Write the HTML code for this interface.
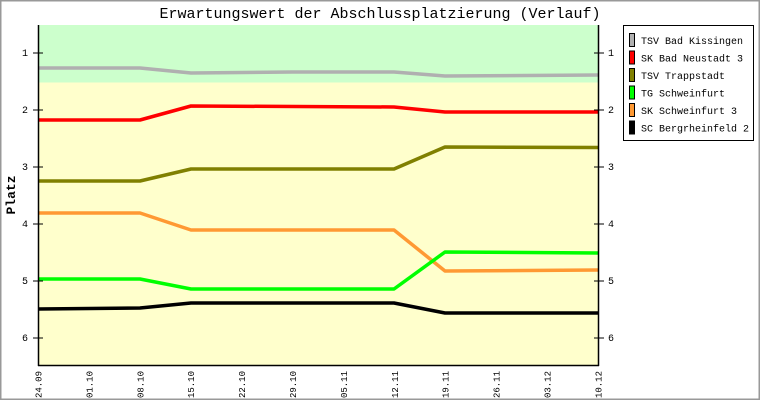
<!DOCTYPE html>
<html><head><meta charset="utf-8"><style>
html,body{margin:0;padding:0;background:#fff}
svg{display:block}
text{font-family:"Liberation Mono","DejaVu Sans Mono",monospace}
</style></head><body>
<svg width="760" height="400" xmlns="http://www.w3.org/2000/svg">
<rect x="0.5" y="0.5" width="759" height="399" fill="#fff" stroke="#999" stroke-width="2"/>
<text x="380" y="18" text-anchor="middle" font-size="15">Erwartungswert der Abschlussplatzierung (Verlauf)</text>
<rect x="38" y="25" width="560" height="57.5" fill="#ccffcc"/>
<rect x="38" y="82.5" width="560" height="283" fill="#ffffcc"/>
<g fill="none" stroke-width="3.5" stroke-linejoin="round">
<polyline stroke="#b0b0b0" points="38,68 140,68 191,73 292,72 394,72 445,76 598,75"/>
<polyline stroke="#ff0000" points="38,120 140,120 191,106 394,107 445,112 598,112"/>
<polyline stroke="#808000" points="38,181 140,181 191,169 394,169 445,147 598,147.5"/>
<polyline stroke="#ff9933" points="38,213 140,213 191,230 394,230 445,271 598,270"/>
<polyline stroke="#00ff00" points="38,279 140,279 191,289 394,289 445,252 598,253"/>
<polyline stroke="#000000" points="38,309 140,308 191,303 394,303 445,313 598,313"/>
</g>
<g stroke="#000" stroke-width="1.5" fill="none">
<line x1="38.5" y1="25" x2="38.5" y2="366"/>
<line x1="598.5" y1="25" x2="598.5" y2="366"/>
<line x1="38" y1="365.5" x2="599" y2="365.5"/>
</g>
<g stroke="#000" stroke-width="1">
<line x1="33" y1="53" x2="43" y2="53"/><line x1="33" y1="110" x2="43" y2="110"/><line x1="33" y1="167" x2="43" y2="167"/><line x1="33" y1="224" x2="43" y2="224"/><line x1="33" y1="281" x2="43" y2="281"/><line x1="33" y1="338" x2="43" y2="338"/>
<line x1="594" y1="53" x2="604" y2="53"/><line x1="594" y1="110" x2="604" y2="110"/><line x1="594" y1="167" x2="604" y2="167"/><line x1="594" y1="224" x2="604" y2="224"/><line x1="594" y1="281" x2="604" y2="281"/><line x1="594" y1="338" x2="604" y2="338"/>
</g>
<g font-size="10" text-anchor="middle">
<text x="25" y="56">1</text><text x="25" y="113">2</text><text x="25" y="170">3</text><text x="25" y="227">4</text><text x="25" y="284">5</text><text x="25" y="341">6</text>
<text x="611" y="56">1</text><text x="611" y="113">2</text><text x="611" y="170">3</text><text x="611" y="227">4</text><text x="611" y="284">5</text><text x="611" y="341">6</text>
</g>
<text transform="translate(15,195) rotate(-90)" text-anchor="middle" font-size="13" font-weight="bold">Platz</text>
<g font-size="9" text-anchor="end">
<text transform="translate(41.5,371) rotate(-90)">24.09</text>
<text transform="translate(92.4,371) rotate(-90)">01.10</text>
<text transform="translate(143.3,371) rotate(-90)">08.10</text>
<text transform="translate(194.2,371) rotate(-90)">15.10</text>
<text transform="translate(245.1,371) rotate(-90)">22.10</text>
<text transform="translate(296,371) rotate(-90)">29.10</text>
<text transform="translate(346.9,371) rotate(-90)">05.11</text>
<text transform="translate(397.8,371) rotate(-90)">12.11</text>
<text transform="translate(448.7,371) rotate(-90)">19.11</text>
<text transform="translate(499.6,371) rotate(-90)">26.11</text>
<text transform="translate(550.5,371) rotate(-90)">03.12</text>
<text transform="translate(601.5,371) rotate(-90)">10.12</text>
</g>
<rect x="623.5" y="25.5" width="130" height="115" fill="#fff" stroke="#000" stroke-width="1"/>
<g stroke="#000" stroke-width="1">
<rect x="629.5" y="33.5" width="5" height="13" fill="#b0b0b0"/>
<rect x="629.5" y="51" width="5" height="13" fill="#ff0000"/>
<rect x="629.5" y="68.5" width="5" height="13" fill="#808000"/>
<rect x="629.5" y="86" width="5" height="13" fill="#00ff00"/>
<rect x="629.5" y="103.5" width="5" height="13" fill="#ff9933"/>
<rect x="629.5" y="121" width="5" height="13" fill="#000"/>
</g>
<g font-size="10">
<text x="641" y="44">TSV Bad Kissingen</text>
<text x="641" y="61.5">SK Bad Neustadt 3</text>
<text x="641" y="79">TSV Trappstadt</text>
<text x="641" y="96.5">TG Schweinfurt</text>
<text x="641" y="114">SK Schweinfurt 3</text>
<text x="641" y="131.5">SC Bergrheinfeld 2</text>
</g>
</svg>
</body></html>
